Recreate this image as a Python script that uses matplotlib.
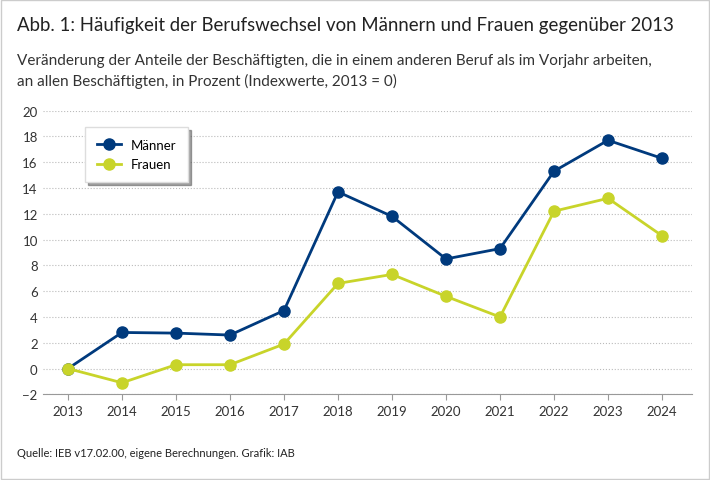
import matplotlib
matplotlib.use("Agg")
import matplotlib.pyplot as plt

years = [2013, 2014, 2015, 2016, 2017, 2018, 2019, 2020, 2021, 2022, 2023, 2024]
maenner = [0, 2.8, 2.75, 2.6, 4.5, 13.7, 11.8, 8.5, 9.3, 15.3, 17.7, 16.3]
frauen = [0, -1.1, 0.3, 0.3, 1.9, 6.6, 7.3, 5.6, 4.0, 12.2, 13.2, 10.3]
yticks = list(range(-2, 21, 2))

plt.rcParams['font.family'] = ['Lato', 'DejaVu Sans']
fig = plt.figure(figsize=(7.10, 4.81), dpi=100)

# thin frame around the whole graphic
fig.patches.append(plt.Rectangle((0.002, 0.002), 0.996, 0.996, transform=fig.transFigure,
                                 fill=False, edgecolor='#cccccc', linewidth=1))

fig.text(0.024, 0.935, "Abb. 1: Häufigkeit der Berufswechsel von Männern und Frauen gegenüber 2013",
         fontsize=13.4, color='#222222')
fig.text(0.024, 0.865, "Veränderung der Anteile der Beschäftigten, die in einem anderen Beruf als im Vorjahr arbeiten,",
         fontsize=11, color='#333333')
fig.text(0.024, 0.822, "an allen Beschäftigten, in Prozent (Indexwerte, 2013 = 0)",
         fontsize=11, color='#333333')
fig.text(0.024, 0.05, "Quelle: IEB v17.02.00, eigene Berechnungen. Grafik: IAB",
         fontsize=8, color='#222222')

ax = fig.add_axes([0.06, 0.178, 0.915, 0.59])
ax.plot(years, maenner, color='#003a7d', lw=2, marker='o', ms=8, label='Männer', zorder=3)
ax.plot(years, frauen, color='#c8d42a', lw=2, marker='o', ms=8, label='Frauen', zorder=3)

ax.set_ylim(-2, 20)
ax.set_xlim(2012.53, 2024.56)
ax.set_yticks(yticks)
ax.set_yticklabels([str(t).replace('-', '\u2212') for t in yticks])
ax.set_xticks(years)
ax.grid(axis='y', linestyle=':', color='#bbbbbb', lw=0.8)
for s in ['top', 'right', 'left']:
    ax.spines[s].set_visible(False)
ax.spines['bottom'].set_color('#999999')
ax.tick_params(axis='y', length=0, labelsize=9.5, colors='#333333')
ax.tick_params(axis='x', length=4, color='#999999', labelsize=9.5, colors='#333333')

leg = ax.legend(loc='upper left', bbox_to_anchor=(0.055, 0.965), fontsize=9.5,
                frameon=True, fancybox=False, borderpad=0.9, labelspacing=0.55,
                handlelength=1.8, shadow=True, edgecolor='#dddddd')

fig.savefig("out.png", dpi=100)
